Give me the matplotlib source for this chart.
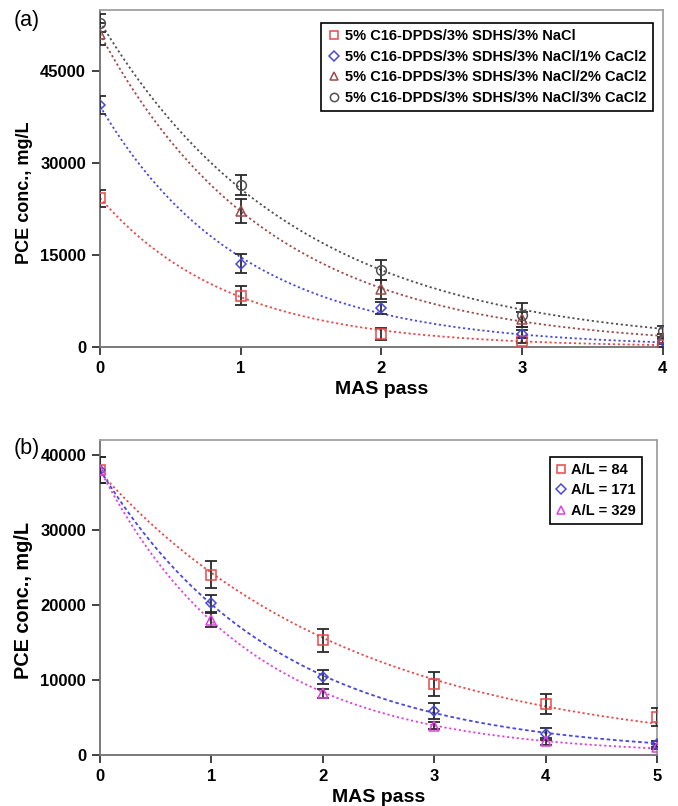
import numpy as np
import matplotlib
matplotlib.use('Agg')
import matplotlib.pyplot as plt

plt.rcParams['font.family'] = ['Liberation Sans', 'DejaVu Sans']

# (a) PCE removal per MAS pass, salinity / CaCl2 series
passes_a = [0, 1, 2, 3, 4]
nacl = [24300, 8400, 2100, 1000, 300]
nacl_err = [1400, 1500, 1000, 400, 300]
cacl1 = [39500, 13600, 6400, 2100, 900]
cacl1_err = [1500, 1500, 950, 700, 400]
cacl2 = [51100, 22200, 9400, 4500, 1400]
cacl2_err = [1800, 2000, 1600, 1200, 700]
cacl3 = [52900, 26400, 12600, 5200, 2600]
cacl3_err = [1500, 1600, 1600, 2000, 900]
labels_a = ['5% C16-DPDS/3% SDHS/3% NaCl',
            '5% C16-DPDS/3% SDHS/3% NaCl/1% CaCl2',
            '5% C16-DPDS/3% SDHS/3% NaCl/2% CaCl2',
            '5% C16-DPDS/3% SDHS/3% NaCl/3% CaCl2']

# (b) air/liquid ratio series
passes_b = [0, 1, 2, 3, 4, 5]
al84 = [38000, 24000, 15300, 9400, 6800, 5100]
al84_err = [1700, 1800, 1550, 1600, 1300, 1200]
al171 = [38000, 20200, 10400, 5900, 2750, 1400]
al171_err = [1700, 1100, 950, 1050, 800, 400]
al329 = [38000, 18000, 8200, 3900, 1800, 1100]
al329_err = [1700, 950, 600, 500, 500, 300]
labels_b = ['A/L = 84', 'A/L = 171', 'A/L = 329']


def exp_trend(x, y):
    # exponential trendline, log-linear fit weighted towards the large values
    y = np.asarray(y, float)
    b, a = np.polyfit(x, np.log(y), 1, w=y)
    xs = np.linspace(min(x), max(x), 200)
    return xs, np.exp(a) * np.exp(b * xs)


MSIZE = {'s': 7, 'D': 5.5, '^': 7.5, 'o': 7}


def draw(ax, x, series):
    for y, err, col, mk, lab, ls in series:
        xs, ys = exp_trend(x, y)
        ax.plot(xs, ys, color=col, lw=1.3, linestyle=ls, zorder=2)
        ax.errorbar(x, y, yerr=err, fmt='none', ecolor='#2a2a2a',
                    elinewidth=1.3, capsize=4, capthick=1.3, zorder=3)
        ax.plot(x, y, linestyle='none', marker=mk, markersize=MSIZE[mk],
                markerfacecolor='none', markeredgecolor=col, mew=1.1,
                label=lab, zorder=4)


def style(ax, ylab_size):
    for s in ['top', 'right']:
        ax.spines[s].set_color('#a0a0a0')
    for s in ['left', 'bottom']:
        ax.spines[s].set_color('#707070')
    for s in ax.spines.values():
        s.set_linewidth(1.3)
    ax.tick_params(direction='out', length=6, width=1.3, color='#333333',
                   labelsize=12, pad=4)
    for t in ax.get_xticklabels() + ax.get_yticklabels():
        t.set_fontweight('bold')
    ax.set_xlabel('MAS pass', fontsize=14, fontweight='bold', labelpad=4)
    ax.set_ylabel('PCE conc., mg/L', fontsize=ylab_size, fontweight='bold')


def legend(ax, anchor, size, hlen):
    leg = ax.legend(loc='upper right', bbox_to_anchor=anchor, borderaxespad=0,
                    prop={'weight': 'bold', 'size': size}, handlelength=hlen,
                    handletextpad=0.35, borderpad=0.4, labelspacing=0.45,
                    markerscale=0.85, fancybox=False, framealpha=1,
                    edgecolor='black')
    leg.get_frame().set_linewidth(1.2)


fig = plt.figure(figsize=(6.78, 8.06), dpi=100)

ax1 = fig.add_axes([0.1475, 0.5695, 0.83, 0.418])
dots = (0, (1.2, 1.5))
draw(ax1, passes_a, [
    (nacl, nacl_err, '#e84848', 's', labels_a[0], dots),
    (cacl1, cacl1_err, '#4848e0', 'D', labels_a[1], dots),
    (cacl2, cacl2_err, '#9c4a4a', '^', labels_a[2], dots),
    (cacl3, cacl3_err, '#505050', 'o', labels_a[3], dots),
])
ax1.set_xlim(0, 4)
ax1.set_ylim(0, 55000)
ax1.set_xticks([0, 1, 2, 3, 4])
ax1.set_yticks([0, 15000, 30000, 45000])
style(ax1, 13)
ax1.yaxis.set_label_coords(-0.119, 0.457)
legend(ax1, (0.982, 0.961), 10.5, 0.9)
fig.text(0.02, 0.975, '(a)', fontsize=15.5, va='center', ha='left')

ax2 = fig.add_axes([0.1475, 0.0633, 0.8215, 0.3908])
draw(ax2, passes_b, [
    (al84, al84_err, '#e84848', 's', labels_b[0], dots),
    (al171, al171_err, '#4848e0', 'D', labels_b[1], (0, (2.0, 1.5))),
    (al329, al329_err, '#e040e0', '^', labels_b[2], dots),
])
ax2.set_xlim(0, 5)
ax2.set_ylim(0, 42000)
ax2.set_xticks([0, 1, 2, 3, 4, 5])
ax2.set_yticks([0, 10000, 20000, 30000, 40000])
style(ax2, 14.3)
ax2.yaxis.set_label_coords(-0.120, 0.489)
legend(ax2, (0.973, 0.946), 10.5, 0.7)
fig.text(0.02, 0.443, '(b)', fontsize=15.5, va='center', ha='left')

fig.savefig('out.png', dpi=100)
